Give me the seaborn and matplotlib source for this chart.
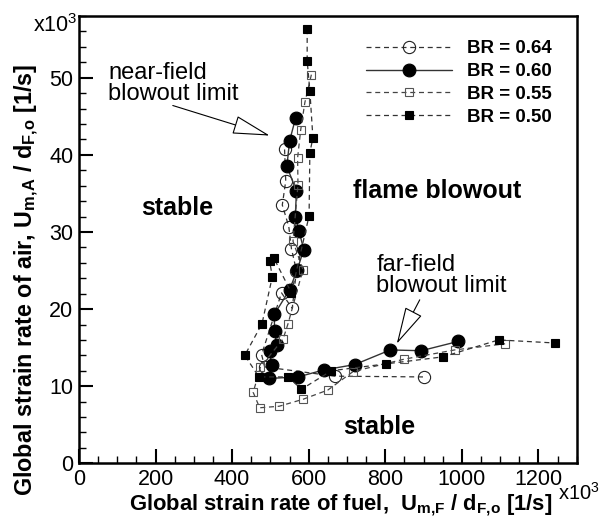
import numpy as np
import pandas as pd
import matplotlib
matplotlib.use("Agg")
import matplotlib.pyplot as plt
from matplotlib.ticker import MultipleLocator
import seaborn as sns

# ---- data (x10^3 1/s) ----
br64_x = [537, 540, 531, 548, 555, 568, 557, 529, 477, 485, 668, 900]
br64_y = [40.7, 36.6, 33.5, 30.7, 27.8, 25.0, 20.1, 22.1, 14.1, 12.5, 11.3, 11.2]

br60_x = [566, 550, 543, 568, 565, 575, 587, 570, 550, 510, 511, 516, 498, 503, 496, 572, 639, 720, 813, 894, 990]
br60_y = [44.8, 41.8, 38.5, 35.3, 32.0, 30.1, 27.7, 25.1, 22.5, 19.3, 17.2, 15.4, 14.5, 12.8, 11.0, 11.2, 12.1, 12.8, 14.7, 14.6, 15.8]

br55_x = [607, 590, 579, 571, 572, 559, 585, 546, 533, 474, 455, 472, 523, 585, 650, 716, 849, 981, 1113]
br55_y = [50.4, 46.8, 43.2, 39.6, 36.1, 28.8, 25.1, 18.1, 16.1, 12.5, 9.2, 7.2, 7.4, 8.3, 9.5, 11.9, 13.5, 14.7, 15.5]

br50_x = [596, 596, 603, 611, 603, 601, 555, 509, 498, 505, 478, 433, 470, 546, 581, 659, 803, 950, 1096, 1244]
br50_y = [56.3, 52.2, 48.3, 42.2, 40.3, 32.1, 22.1, 26.6, 26.2, 24.2, 18.1, 14.0, 11.2, 11.2, 9.6, 12.0, 12.9, 13.8, 16.0, 15.6]

labels = ["BR = 0.64", "BR = 0.60", "BR = 0.55", "BR = 0.50"]

sns.set_style("ticks")
plt.rcParams["font.family"] = ["Liberation Sans", "DejaVu Sans"]
plt.rcParams["mathtext.fontset"] = "custom"
plt.rcParams["mathtext.rm"] = "Liberation Sans"
plt.rcParams["mathtext.bf"] = "Liberation Sans:bold"
plt.rcParams["mathtext.it"] = "Liberation Sans:italic"
for k in ["text.color", "axes.labelcolor", "xtick.color", "ytick.color", "axes.edgecolor"]:
    plt.rcParams[k] = "black"

fig = plt.figure(figsize=(6.01, 5.18), dpi=100)
ax = fig.add_axes([0.1314, 0.1056, 0.9596 - 0.1314, 0.969 - 0.1056])

dash = (0, (4, 3))
series = [
    (br64_x, br64_y, dict(marker="o", markersize=8.8, markerfacecolor="none", markeredgecolor="#222222",
                          markeredgewidth=0.8, linestyle=dash, color="#333333", linewidth=0.9)),
    (br60_x, br60_y, dict(marker="o", markersize=9.2, markerfacecolor="black", markeredgecolor="black",
                          markeredgewidth=0.8, linestyle="-", color="#333333", linewidth=1.0)),
    (br55_x, br55_y, dict(marker="s", markersize=6.3, markerfacecolor="none", markeredgecolor="#555555",
                          markeredgewidth=0.8, linestyle=dash, color="#444444", linewidth=0.9)),
    (br50_x, br50_y, dict(marker="s", markersize=6.0, markerfacecolor="black", markeredgecolor="black",
                          markeredgewidth=0.8, linestyle=dash, color="#333333", linewidth=0.9)),
]
for (xs, ys, kw), lab in zip(series, labels):
    df = pd.DataFrame({"x": xs, "y": ys})
    sns.lineplot(data=df, x="x", y="y", sort=False, estimator=None, ax=ax, label=lab, **kw)

ax.set_xlim(0, 1300)
ax.set_ylim(0, 58)
ax.xaxis.set_major_locator(MultipleLocator(200))
ax.xaxis.set_minor_locator(MultipleLocator(50))
ax.yaxis.set_major_locator(MultipleLocator(10))
ax.yaxis.set_minor_locator(MultipleLocator(2))
ax.tick_params(which="major", direction="in", length=10, width=1.5, labelsize=15.5,
               top=False, right=False, pad=4)
ax.tick_params(which="minor", direction="in", length=5, width=1.0, top=False, right=False)
for s in ax.spines.values():
    s.set_linewidth(1.8)
    s.set_color("black")

ax.set_xlabel(r"Global strain rate of fuel,  U$_{\mathbf{m{,}F}}$ / d$_{\mathbf{F{,}o}}$ [1/s]",
              fontsize=15.8, fontweight="bold")
ax.set_ylabel(r"Global strain rate of air, U$_{\mathbf{m{,}A}}$ / d$_{\mathbf{F{,}o}}$ [1/s]",
              fontsize=16.8, fontweight="bold")
ax.xaxis.set_label_coords(0.525, -0.064)
ax.yaxis.set_label_coords(-0.077, 0.41)

fig.text(78 / 601, 1 - 32 / 518, r"x10$^{\mathrm{3}}$", fontsize=15.5, ha="right", va="baseline")
fig.text(600 / 601, 1 - 500 / 518, r"x10$^{\mathrm{3}}$", fontsize=14.5, ha="right", va="baseline")

leg = ax.legend(loc="upper right", bbox_to_anchor=(0.95, 0.946), frameon=False,
                prop={"size": 13.5, "weight": "bold"}, handlelength=4.6, handletextpad=0.8,
                labelspacing=0.3, borderaxespad=0, borderpad=0, numpoints=1)

ax.text(163, 32.2, "stable", fontsize=18, fontweight="bold", ha="left", va="baseline")
ax.text(1156, 34.4, "flame blowout", fontsize=18, fontweight="bold", ha="right", va="baseline")
ax.text(689, 3.8, "stable", fontsize=18, fontweight="bold", ha="left", va="baseline")
ax.text(76, 49.2, "near-field\nblowout limit", fontsize=17, ha="left", va="center", linespacing=0.95)
ax.text(777, 24.4, "far-field\nblowout limit", fontsize=17, ha="left", va="center", linespacing=0.95)

ap = dict(arrowstyle="-|>,head_length=1.2,head_width=0.3", fc="white", ec="black", lw=0.8,
          mutation_scale=20, shrinkA=0, shrinkB=0)
ax.annotate("", xy=(498, 42.5), xytext=(245, 46.4), arrowprops=ap)
ax.annotate("", xy=(830, 15.5), xytext=(890, 21.2), arrowprops=ap)

fig.savefig("out.png", dpi=100)
